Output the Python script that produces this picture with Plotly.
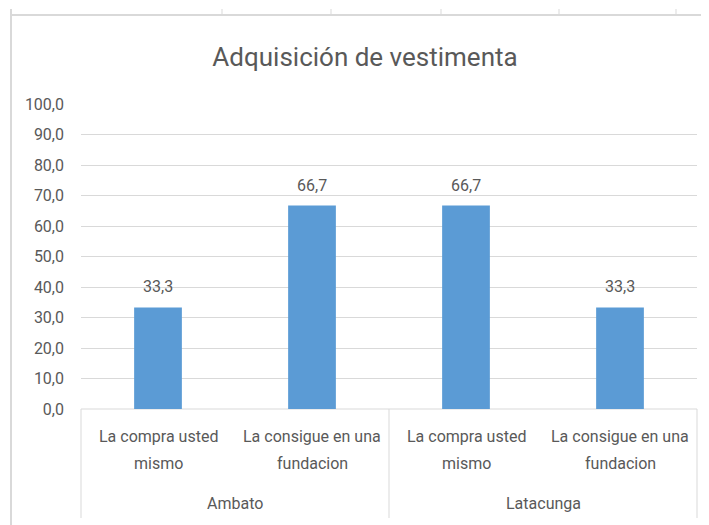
import plotly.graph_objects as go

# Datos del grafico
ciudades = ["Ambato", "Latacunga"]
opciones = [("La compra usted", "mismo"), ("La consigue en una", "fundacion")]
categorias = ["Ambato | La compra usted mismo", "Ambato | La consigue en una fundacion",
              "Latacunga | La compra usted mismo", "Latacunga | La consigue en una fundacion"]
porcentajes = [33.3, 66.7, 66.7, 33.3]

# la pagina del navegador deja 8 px de margen
OFF = 8
W, H = 709 - OFF, 525 - OFF
X0, X1, Y0, Y1 = 81, 697, 104, 409   # area del grafico (px de la imagen)
L, R, T, B = X0 - OFF, W - (X1 - OFF), Y0 - OFF, H - (Y1 - OFF)
font_family = "Roboto, Liberation Sans, sans-serif"
gris_texto = "#595959"
gris_linea = "#d9d9d9"
tam = 16

fig = go.Figure()
fig.add_trace(go.Bar(
    x=categorias,
    y=porcentajes,
    marker=dict(color="#5b9bd5", line=dict(width=0)),
    width=0.31,
    hoverinfo="x+y",
))


def px(x):
    return (x - X0) / (X1 - X0)


def py(y):
    return (Y1 - y) / (Y1 - Y0)


def linea(x0, y0, x1, y1, ancho=1):
    return dict(type="line", xref="paper", yref="paper",
                x0=px(x0), x1=px(x1), y0=py(y0), y1=py(y1),
                line=dict(color=gris_linea, width=ancho), layer="below")


shapes = []
# lineas de la hoja de calculo
shapes.append(linea(11, 15, 720, 15, 2))
shapes.append(linea(11, 9, 11, 530, 2))
for xc in [222, 331, 441, 559, 676]:
    shapes.append(linea(xc, 9, xc, 15, 1))
# caja del eje de categorias
shapes.append(linea(X0, Y1, X1, Y1))
for xc in [X0, (X0 + X1) / 2, X1]:
    shapes.append(linea(xc, Y1, xc, 518))

annotations = []
# etiquetas de datos
for cat, val in zip(categorias, porcentajes):
    annotations.append(dict(x=cat, y=val, xref="x", yref="y",
                            text=f"{val:.1f}".replace(".", ","),
                            showarrow=False, yanchor="bottom", yshift=9,
                            font=dict(size=tam, color=gris_texto)))
# etiquetas de categorias
for i, cat in enumerate(categorias):
    lineas = opciones[i % 2]
    for j, txt in enumerate(lineas):
        annotations.append(dict(x=cat, y=py(436 + 27 * j), xref="x", yref="paper",
                                text=txt, showarrow=False, yanchor="middle",
                                font=dict(size=tam, color=gris_texto)))
for k, ciudad in enumerate(ciudades):
    annotations.append(dict(x=0.5 + 2 * k, y=py(503), xref="x", yref="paper",
                            text=ciudad, showarrow=False, yanchor="middle",
                            font=dict(size=tam, color=gris_texto)))

fig.update_layout(
    width=W, height=H,
    margin=dict(l=L, r=R, t=T, b=B),
    paper_bgcolor="white",
    plot_bgcolor="white",
    separators=",.",
    showlegend=False,
    font=dict(family=font_family, color=gris_texto, size=tam),
    title=dict(text="Adquisición de vestimenta", x=(365 - OFF) / W, xanchor="center",
               y=1 - (57 - OFF) / H, yanchor="middle",
               font=dict(size=26, color=gris_texto, family=font_family)),
    shapes=shapes,
    annotations=annotations,
)
fig.update_yaxes(range=[0, 100], dtick=10, tickformat=".1f",
                 showgrid=True, gridcolor=gris_linea, gridwidth=1,
                 zeroline=False, showline=False, ticks="",
                 tickfont=dict(size=tam, color=gris_texto), ticklabelstandoff=16)
fig.update_xaxes(showticklabels=False, showline=False, ticks="", showgrid=False,
                 range=[-0.5, 3.5])

fig.write_html("out.html")
